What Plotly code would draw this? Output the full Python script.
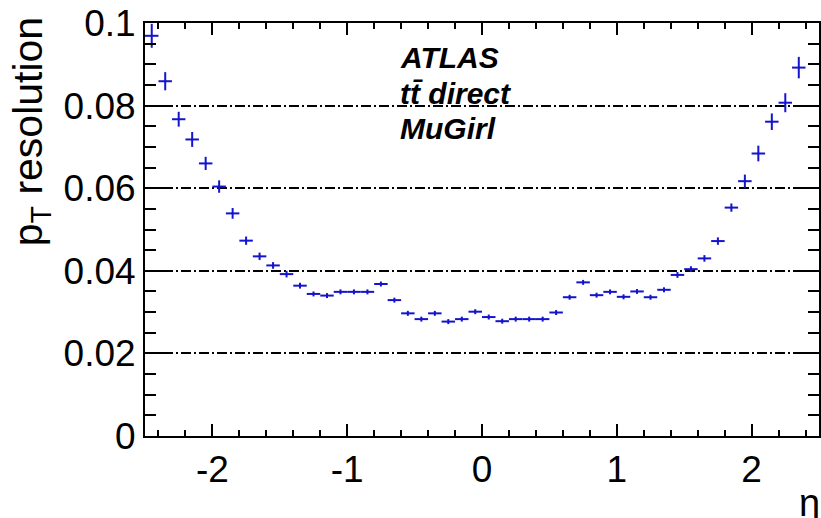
import plotly.graph_objects as go

# ---- data ----
eta_centers = [round(-2.45 + 0.1 * i, 2) for i in range(49)]
pt_resolution = [
    0.0969, 0.0859, 0.0767, 0.0718, 0.0660, 0.0604, 0.0539, 0.0473, 0.0435, 0.0413,
    0.0392, 0.0364, 0.0344, 0.0340, 0.0349, 0.0349, 0.0349, 0.0368, 0.0329, 0.0297,
    0.0283, 0.0297, 0.0277, 0.0283, 0.0301, 0.0288, 0.0278, 0.0283, 0.0283, 0.0283,
    0.0299, 0.0336, 0.0372, 0.0341, 0.0349, 0.0337, 0.0350, 0.0336, 0.0354, 0.0390,
    0.0404, 0.0430, 0.0472, 0.0553, 0.0617, 0.0684, 0.0761, 0.0807, 0.0892,
]
pt_resolution_err = [
    0.0029, 0.0022, 0.0018, 0.0018, 0.0016, 0.0015, 0.0013, 0.0010, 0.0009, 0.0008,
    0.0008, 0.0007, 0.0006, 0.0006, 0.0006, 0.0006, 0.0006, 0.0006, 0.0006, 0.0006,
    0.0006, 0.0006, 0.0006, 0.0006, 0.0006, 0.0006, 0.0006, 0.0006, 0.0006, 0.0006,
    0.0006, 0.0006, 0.0006, 0.0006, 0.0006, 0.0006, 0.0006, 0.0006, 0.0006, 0.0007,
    0.0007, 0.0008, 0.0009, 0.0010, 0.0016, 0.0019, 0.0020, 0.0023, 0.0026,
]
bin_half_width = 0.05

x_tickvals = [-2, -1, 0, 1, 2]
x_ticktext = ["-2", "-1", "0", "1", "2"]
y_tickvals = [0, 0.02, 0.04, 0.06, 0.08, 0.1]
y_ticktext = ["0", "0.02", "0.04", "0.06", "0.08", "0.1"]

BLUE = "rgb(20,20,205)"
FONT = "Liberation Sans"

fig = go.Figure()
fig.add_trace(go.Scatter(
    x=eta_centers, y=pt_resolution, mode="markers",
    marker=dict(size=2, color=BLUE),
    error_x=dict(type="constant", value=bin_half_width, width=0, thickness=2, color=BLUE),
    error_y=dict(type="data", array=pt_resolution_err, width=0, thickness=2, color=BLUE),
    showlegend=False, cliponaxis=True,
))

axis_common = dict(
    showline=True, linecolor="black", linewidth=2, mirror="ticks",
    ticks="inside", tickcolor="black", tickwidth=1.6,
    zeroline=False,
    tickfont=dict(family=FONT, size=37, color="black"),
)

fig.update_xaxes(
    range=[-2.5, 2.5], tickvals=x_tickvals, ticktext=x_ticktext,
    ticklen=12, showgrid=False,
    minor=dict(dtick=0.2, tick0=0, ticks="inside", ticklen=6, tickcolor="black",
               tickwidth=1.6, showgrid=False),
    **axis_common,
)
fig.update_yaxes(
    range=[0, 0.1], tickvals=y_tickvals, ticktext=y_ticktext,
    ticklen=22, showgrid=True, gridcolor="black", gridwidth=1.7,
    griddash="10px,3px,2px,3px",
    minor=dict(dtick=0.005, tick0=0, ticks="inside", ticklen=11, tickcolor="black",
               tickwidth=1.6, showgrid=False),
    **axis_common,
)

W, H = 821, 518
L, T, B, R = 145, 23, 82, 0
pw, ph = W - L - R, H - T - B

def px_x(p):
    return (p - L) / pw

def px_y(p):
    return (H - B - p) / ph

annos = [
    dict(text="<b><i>ATLAS</i></b>", x=px_x(399), y=px_y(57.5), size=30),
    dict(text="<b><i>tt\u0304 direct</i></b>", x=px_x(399), y=px_y(93), size=30),
    dict(text="<b><i>MuGirl</i></b>", x=px_x(399), y=px_y(128), size=30),
]
for a in annos:
    fig.add_annotation(text=a["text"], x=a["x"], y=a["y"], xref="paper", yref="paper",
                       xanchor="left", yanchor="middle", showarrow=False,
                       font=dict(family=FONT, size=a["size"], color="black"))

fig.add_annotation(text="p<sub>T</sub> resolution", textangle=-90,
                   x=px_x(31), y=px_y(14), xref="paper", yref="paper",
                   xanchor="center", yanchor="top", showarrow=False,
                   font=dict(family=FONT, size=41, color="black"))
fig.add_annotation(text="\u03b7", x=px_x(799), y=px_y(503), xref="paper", yref="paper",
                   xanchor="left", yanchor="middle", showarrow=False,
                   font=dict(family=FONT, size=38, color="black"))

fig.update_layout(
    width=W, height=H, margin=dict(l=L, r=R, t=T, b=B),
    plot_bgcolor="white", paper_bgcolor="white",
)

fig.write_html("out.html")
